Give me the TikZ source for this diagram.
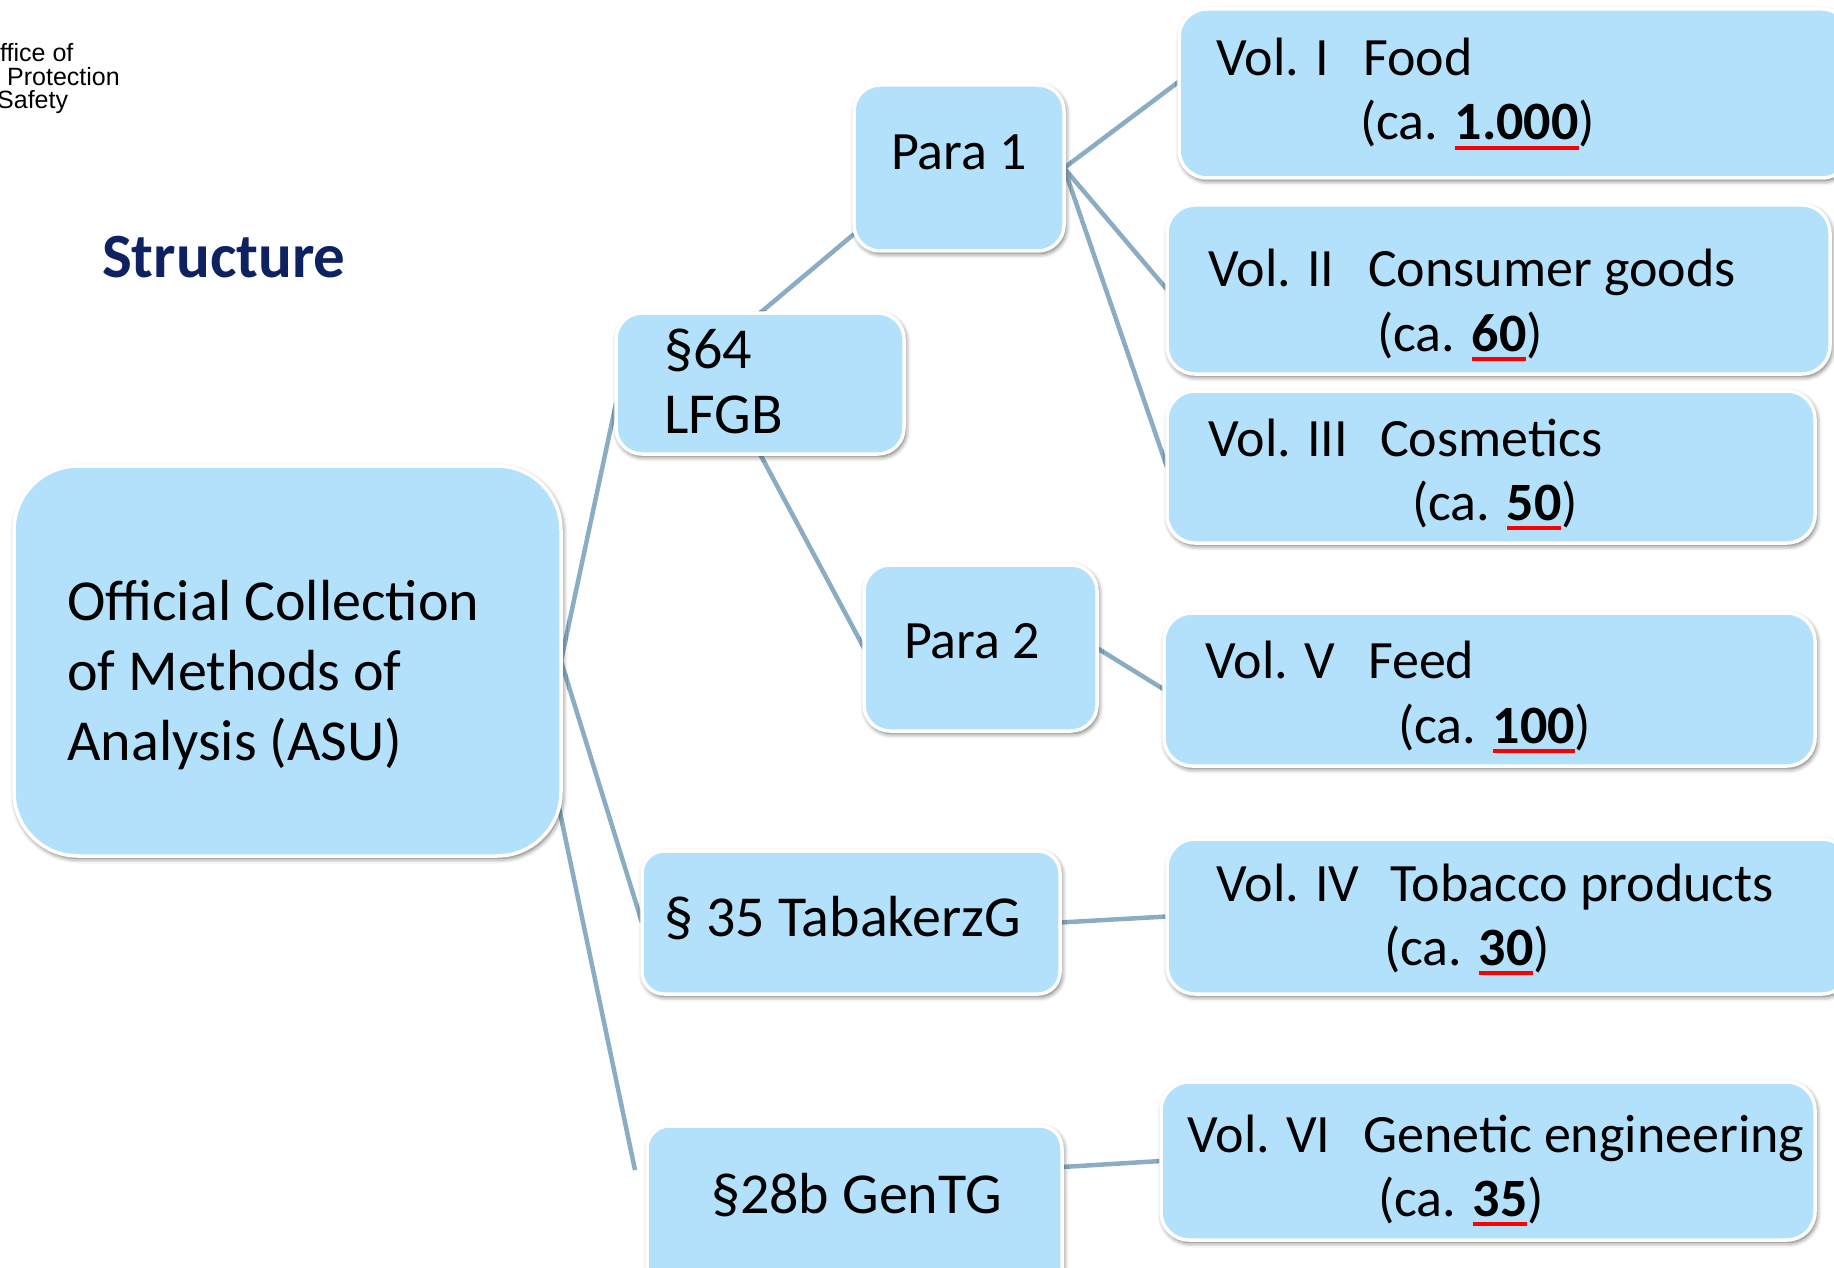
\documentclass[tikz,border=0pt]{standalone}
\usepackage{fontspec}
\setmainfont{Carlito}
\newfontfamily\logofont{Liberation Sans}
\usetikzlibrary{calc,shadows.blur,backgrounds}
\definecolor{boxfill}{HTML}{B3E1FB}
\definecolor{linkcol}{HTML}{8AADC3}
\definecolor{navy}{HTML}{0E2160}
\newsavebox\numbox
% bold count with a red underline
\newcommand\ubnum[1]{\sbox\numbox{\bfseries #1}\rlap{\textcolor{red}{\rule[-10pt]{\wd\numbox}{4pt}}}\usebox\numbox}
\begin{document}
\begin{tikzpicture}[x=1pt,y=-1pt,
  box/.style={fill=boxfill, draw=white, line width=3.5pt, rounded corners=#1,
    inner sep=0pt, outer sep=0pt,
    blur shadow={shadow xshift=1.5pt, shadow yshift=-2.5pt, shadow blur radius=5pt, shadow opacity=65}},
  box/.default=28pt,
  txt/.style={anchor=base west, inner sep=0pt, font=\fontsize{58}{64}\selectfont},
  voltxt/.style={anchor=base west, inner sep=0pt, font=\fontsize{54}{64}\selectfont},
  logotxt/.style={anchor=base west, inner sep=0pt, font=\logofont\fontsize{25}{25}\selectfont},
  link/.style={draw=linkcol, line width=4.5pt}]
\clip (0,0) rectangle (1834,1268);

% header
\node[logotxt] (logoa) at (0,62) {ffice of};
\node[logotxt] (logob) at (7,86) {Protection};
\node[logotxt] (logoc) at (-3,109) {Safety};
\node[anchor=base west, inner sep=0pt, text=navy, font=\bfseries\fontsize{63}{63}\selectfont] (title) at (102,277) {Structure};

% boxes
\node[box=64pt, minimum width=547pt, minimum height=390pt] (asu) at (287.5,661) {};
\node[box=26pt, minimum width=288pt, minimum height=141pt] (s64) at (760,383.5) {};
\node[box=26pt, minimum width=210pt, minimum height=166pt] (p1) at (959,168) {};
\node[box=26pt, minimum width=233pt, minimum height=166pt] (p2) at (980.5,648) {};
\node[box, minimum width=671pt, minimum height=169pt] (v1) at (1514.5,93.5) {};
\node[box, minimum width=663pt, minimum height=169pt] (v2) at (1498.5,289.5) {};
\node[box, minimum width=648pt, minimum height=152pt] (v3) at (1491,467) {};
\node[box, minimum width=651pt, minimum height=153pt] (v5) at (1489.5,689.5) {};
\node[box=22pt, minimum width=418pt, minimum height=143pt] (s35) at (851,922.5) {};
\node[box, minimum width=683pt, minimum height=155pt] (v4) at (1508.5,916.5) {};
\node[box=22pt, minimum width=415pt, minimum height=164pt] (s28) at (854.5,1208) {};
\node[box, minimum width=654pt, minimum height=158pt] (v6) at (1488,1161) {};

% connectors
\begin{scope}[on background layer]
\draw[link] (asu.east) -- ($(s64.west)+(0,20)$);
\draw[link] (asu.east) -- (s35.west);
\draw[link] ($(asu.east)+(-12,99)$) -- ($(s28.west)+(-12,-38)$);
\draw[link] (s64.north) -- ($(p1.south west)+(0,-17)$);
\draw[link] (s64.south) -- (p2.west);
\draw[link] (p1.east) -- ($(v1.west)+(0,-12)$);
\draw[link] (p1.east) -- (v2.west);
\draw[link] (p1.east) -- (v3.west);
\draw[link] (p2.east) -- (v5.west);
\draw[link] (s35.east) -- (v4.west);
\draw[link] ($(s28.east)+(0,-41)$) -- (v6.west);
\end{scope}

% texts
\node[txt] (asua) at (67,620) {Official Collection};
\node[txt] (asub) at (67,690) {of Methods of};
\node[txt] (asuc) at (67,760) {Analysis (ASU)};
\node[txt] (s64a) at (664,368) {§64};
\node[txt] (s64b) at (664,433) {LFGB};
\node[txt, font=\fontsize{54}{64}\selectfont] (p1t) at (891,170) {Para 1};
\node[txt, font=\fontsize{54}{64}\selectfont] (p2t) at (904,658) {Para 2};
\node[txt] (s35t) at (664,936) {§ 35 TabakerzG};
\node[txt] (s28t) at (711,1213) {§28b GenTG};

\node[voltxt] (v1a) at (1216,76) {\makebox[147pt][l]{Vol. I}Food};
\node[voltxt] (v1b) at (1360,140) {(ca. \ubnum{1.000})};
\node[voltxt] (v2a) at (1208,287) {\makebox[160pt][l]{Vol. II}Consumer goods};
\node[voltxt] (v2b) at (1377,351) {(ca. \ubnum{60})};
\node[voltxt] (v3a) at (1208,456) {\makebox[172pt][l]{Vol. III}Cosmetics};
\node[voltxt] (v3b) at (1412,520) {(ca. \ubnum{50})};
\node[voltxt] (v5a) at (1205,678) {\makebox[163pt][l]{Vol. V}Feed};
\node[voltxt] (v5b) at (1398,743) {(ca. \ubnum{100})};
\node[voltxt] (v4a) at (1216,901) {\makebox[174pt][l]{Vol. IV}Tobacco products};
\node[voltxt] (v4b) at (1384,965) {(ca. \ubnum{30})};
\node[voltxt] (v6a) at (1187,1152) {\makebox[176pt][l]{Vol. VI}Genetic engineering};
\node[voltxt] (v6b) at (1378,1216) {(ca. \ubnum{35})};
\end{tikzpicture}
\end{document}
